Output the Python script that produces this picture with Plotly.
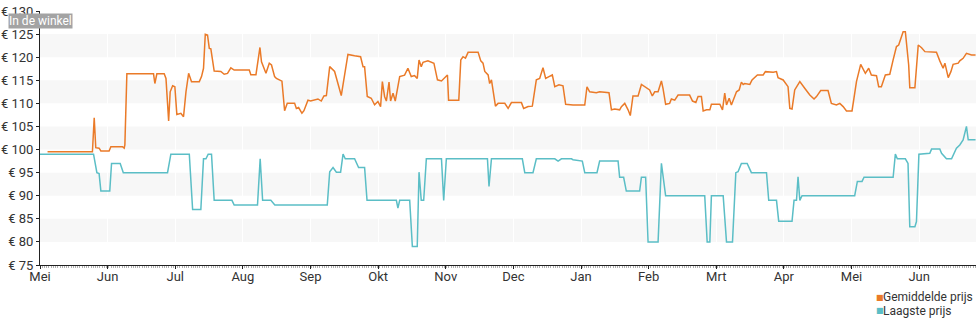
import plotly.graph_objects as go

# ---- data (x = days since start of chart, y = price in euro) ----
maanden = ["Mei", "Jun", "Jul", "Aug", "Sep", "Okt", "Nov", "Dec", "Jan", "Feb", "Mrt", "Apr", "Mei", "Jun"]
dagen_per_maand = 30.44

gem_dag = [3.4, 23.6, 24.4, 25.1, 26.6, 27.4, 31.1, 31.9, 37.1, 37.9, 38.2, 39.1, 51.1, 51.7, 52.6, 55.9,
           56.7, 57.9, 58.6, 59.7, 60.7, 61.6, 63.4, 64.6, 65.7, 66.9, 68.2, 71.7, 72.7, 73.6, 74.4, 75.4,
           76.2, 76.9, 78.4, 81.4, 82.9, 84.4, 85.9, 87.4, 94.2, 94.9, 97.2, 97.9, 99.0, 99.7, 101.7, 103.2,
           104.2, 105.6,
           106.4, 108.9, 110.1, 111.3, 114.6, 115.4, 116.4, 117.9, 118.8, 120.6, 121.8, 125.1, 126.6, 127.8,
           128.9, 130.4, 132.6, 135.6, 138.6, 141.6, 144.3, 145.4, 146.1, 147.3, 149.1, 150.6, 152.1, 153.3,
           154.1, 155.1, 155.9, 157.1, 157.8, 158.9, 159.9, 161.9, 164.1, 165.6, 167.1, 168.6, 169.8, 170.6,
           171.6, 172.4, 174.6, 177.3, 178.9, 180.7, 183.4, 183.9, 188.5, 189.4, 190.4, 191.5, 192.7, 197.2,
           198.4, 199.4, 200.2, 201.7, 202.4, 203.2, 205.0, 206.2, 209.2, 210.7, 211.9,
           212.2, 216.7, 217.7, 219.7, 221.6, 223.4, 224.9, 226.4, 227.6, 229.1, 230.6, 231.7, 233.6, 235.4,
           236.6, 239.9, 245.2, 246.2, 247.4, 250.4, 251.9, 256.1, 257.2, 258.7, 260.9, 261.7, 263.2, 264.7,
           265.7, 266.9, 269.2, 270.7, 272.2, 273.7, 274.4, 275.6, 276.7, 278.2, 278.9, 279.7, 280.4, 281.6,
           283.4, 284.2, 285.7, 287.2, 292.4, 293.7, 295.2, 296.2, 297.7, 298.5, 300.0, 301.5, 302.2, 306.0,
           307.2, 308.2, 309.0, 310.2, 311.2, 312.3, 313.5, 314.7, 315.7, 316.5,
           317.2, 319.5, 320.5, 322.9, 325.5, 326.5, 330.0, 331.5, 332.2, 334.5, 336.0, 336.7, 337.5, 338.5,
           339.7, 342.0, 344.2, 346.5, 348.4, 349.5, 351.4, 354.7, 356.2, 358.5, 360.0, 361.5, 363.0, 365.5,
           367.5, 369.4, 371.5, 373.0, 374.2, 376.5, 377.5, 378.7, 380.5, 382.5, 384.0, 385.5, 386.5, 388.5,
           389.5, 391.0, 391.5, 393.8, 395.3, 396.8, 398.3, 403.5, 405.0, 406.5, 407.3, 408.8, 410.0, 411.0,
           413.3, 414.0, 415.5, 417.0, 419.3, 421.1]
gem_prijs = [99.5, 99.5, 106.9, 100.4, 100.3, 99.7, 99.7, 100.6, 100.6, 100.3, 101.0, 116.4, 116.4, 114.3, 116.4, 116.4,
             115.4, 106.2, 112.5, 113.8, 113.6, 107.6, 107.85, 107.1, 112.5, 116.5, 114.7, 114.7, 115.8, 117.6, 124.95, 124.8,
             121.9, 121.8, 117.0, 116.9, 116.3, 116.5, 117.7, 117.2, 117.2, 116.2, 116.2, 118.7, 122.1, 119.0, 116.5, 118.7,
             118.3, 115.8,
             115.4, 114.8, 108.4, 110.0, 110.0, 108.9, 109.1, 107.85, 108.4, 110.7, 110.5, 110.95, 110.5, 111.6,
             111.7, 117.95, 116.9, 111.7, 120.6, 120.3, 120.1, 117.95, 117.95, 111.5, 111.1, 109.7, 110.4, 109.3,
             114.7, 111.5, 110.5, 114.6, 110.5, 112.2, 110.5, 115.8, 116.1, 117.6, 115.8, 116.0, 115.4, 119.4,
             117.95, 118.9, 119.2, 118.7, 115.1, 114.85, 116.15, 110.7, 110.7, 119.4, 120.1, 119.8, 121.05, 121.05,
             119.2, 118.7, 116.9, 116.15, 114.3, 115.1, 109.4, 110.0, 110.0, 108.9, 110.0,
             110.16, 110.16, 108.9, 109.3, 109.4, 115.1, 115.4, 117.7, 115.4, 115.8, 116.15, 113.6, 114.0, 113.8,
             109.8, 109.65, 109.65, 113.6, 112.5, 112.3, 112.5, 112.3, 108.6, 108.8, 108.6, 109.3, 110.0, 108.6,
             107.35, 111.6, 111.6, 114.1, 113.6, 113.1, 112.9, 111.6, 112.5, 112.5, 113.6, 114.85, 113.3, 109.8,
             110.0, 110.95, 110.7, 111.8, 111.8, 110.5, 110.2, 111.5, 111.5, 108.35, 108.6, 108.6, 109.8, 109.8,
             108.6, 112.2, 109.65, 111.1, 109.65, 111.1, 112.5, 112.9, 114.6, 114.1,
             114.3, 114.1, 115.07, 116.15, 116.15, 116.87, 116.72, 116.87, 115.57, 115.07, 113.98, 113.62, 108.93, 108.79,
             112.9, 114.7, 113.26, 111.82, 110.95, 111.46, 112.76, 112.76, 110.0, 109.65, 110.0, 109.3, 108.35, 108.35,
             114.7, 118.45, 116.5, 117.6, 116.15, 116.0, 113.62, 113.62, 116.15, 116.3, 119.4, 122.3, 122.64, 125.5,
             125.5, 118.3, 113.4, 113.4, 122.64, 122.06, 121.2, 121.05, 119.2, 117.6, 118.7, 115.57, 116.87, 118.45,
             118.7, 119.2, 119.75, 120.84, 120.48, 120.48]

laag_dag = [0, 24.1, 25.6, 26.6, 27.4, 31.4, 32.2, 36.1, 37.5, 57.4, 58.9, 67.2, 68.7, 72.4, 73.6, 74.7, 75.7,
            77.2, 78.4, 86.4, 87.4, 97.9, 99.1, 100.2, 103.9, 105.7,
            129.3, 130.4, 131.9, 133.4, 135.3, 136.4, 137.4, 141.6, 143.4, 146.1, 147.2, 160.4, 161.1, 161.9,
            166.4, 167.6, 169.8, 170.6, 171.6, 172.7, 173.9, 180.7, 181.7, 182.9, 201.4, 202.1, 203.2,
            217.1, 218.2, 221.9, 223.4, 231.7, 233.2, 234.7, 239.2, 239.9, 244.1, 245.2, 250.7, 251.9, 260.2,
            260.9, 262.7, 263.9, 269.9, 270.7, 272.6, 273.7, 278.2, 279.7, 281.6, 299.2, 300.3, 301.5, 302.2,
            307.5, 309.0, 311.7, 313.2, 314.2, 315.7, 318.3,
            320.2, 327.0, 328.0, 331.5, 332.5, 338.5, 339.4, 340.5, 341.2, 342.0, 343.0, 366.7, 367.9, 370.0,
            370.9, 384.0, 385.0, 385.9, 389.5, 390.7, 391.5, 393.8, 394.5, 395.6, 400.5, 401.3, 405.0, 405.8,
            408.0, 410.3, 412.5, 414.0, 415.5, 417.0, 417.8, 421.1]
laag_prijs = [99, 99, 95, 94.8, 91, 91, 97, 97, 95, 95, 99, 99, 87, 87, 98, 98, 99,
              99, 89, 89, 88, 88, 98, 89, 89, 88,
              88, 95.2, 96.1, 95.1, 95.1, 99, 98, 98, 96.1, 96.1, 89, 89, 87.3, 89,
              89, 79, 79, 95.1, 89, 89, 98, 98, 89, 98, 98, 92, 98,
              98, 95, 95, 98, 98, 97.5, 98, 98, 97.8, 97.5, 95, 95, 97.5, 97.5,
              94, 94, 91, 91, 94, 94, 80, 80, 97, 90, 90, 80, 80, 90,
              90, 80, 80, 95, 95.2, 97, 97,
              95, 95, 89, 89, 84.5, 84.5, 89, 89, 94.1, 89, 90, 90, 93.1, 93.1,
              94, 94, 99, 98, 98, 97, 83.3, 83.3, 84.4, 99, 99.2, 100.1, 100.1, 99.2,
              98, 98, 100.3, 101, 102.1, 105, 102.1, 102.1]

y_ticks = [75, 80, 85, 90, 95, 100, 105, 110, 115, 120, 125, 130]
banden = [(80, 85), (90, 95), (100, 105), (110, 115), (120, 125)]

ORANJE = "#ea7a28"
TEAL = "#5bbec6"

fig = go.Figure()
fig.add_trace(go.Scatter(x=gem_dag, y=gem_prijs, mode="lines", name="Gemiddelde prijs",
                         line=dict(color=ORANJE, width=1.5)))
fig.add_trace(go.Scatter(x=laag_dag, y=laag_prijs, mode="lines", name="Laagste prijs",
                         line=dict(color=TEAL, width=1.5)))

for a, b in banden:
    fig.add_shape(type="rect", xref="paper", yref="y", x0=0, x1=1, y0=a, y1=b,
                  fillcolor="#f7f7f7", line=dict(width=0), layer="below")

x_max = 421.3
fig.update_layout(
    width=980, height=325,
    margin=dict(l=40, r=4, t=11, b=60),
    plot_bgcolor="white", paper_bgcolor="white",
    showlegend=False,
    font=dict(family="Roboto", size=13, color="#333333"),
    xaxis=dict(
        range=[0, x_max],
        automargin=False,
        tickmode="array",
        tickvals=[i * dagen_per_maand for i in range(len(maanden))],
        ticktext=maanden,
        showline=True, linecolor="#222222", linewidth=1,
        ticks="outside", ticklen=3, tickcolor="#222222",
        ticklabelstandoff=-4,
        showgrid=True, gridcolor="#ffffff", gridwidth=1,
        zeroline=False,
        minor=dict(dtick=1, tick0=0, ticks="outside", ticklen=2, tickcolor="#b0b0b0", showgrid=False),
        tickfont=dict(size=13, color="#333333"),
    ),
    yaxis=dict(
        range=[75, 130],
        automargin=False,
        tickmode="array",
        tickvals=y_ticks,
        ticktext=["€ %d" % v for v in y_ticks],
        showline=True, linecolor="#222222", linewidth=1,
        ticks="outside", ticklen=3, tickcolor="#222222",
        showgrid=False, zeroline=False,
        tickfont=dict(size=13, color="#333333"),
    ),
)

fig.add_annotation(xref="paper", yref="paper", x=-0.0342, y=0.962, xanchor="left", yanchor="middle",
                   text="In de winkel", showarrow=False, bgcolor="#a3a3a3", borderpad=0,
                   font=dict(family="Roboto", size=12, color="white"))

for i, (naam, kleur) in enumerate([("Gemiddelde prijs", ORANJE), ("Laagste prijs", TEAL)]):
    yy = -0.126 - i * 0.055
    fig.add_annotation(xref="paper", yref="paper", x=0.8915, y=yy, xanchor="left", yanchor="middle",
                       text="■", showarrow=False, font=dict(family="DejaVu Sans", size=8, color=kleur))
    fig.add_annotation(xref="paper", yref="paper", x=0.899, y=yy, xanchor="left", yanchor="middle",
                       text=naam, showarrow=False, font=dict(family="Roboto", size=12, color="#333333"))

fig.write_html("out.html")
